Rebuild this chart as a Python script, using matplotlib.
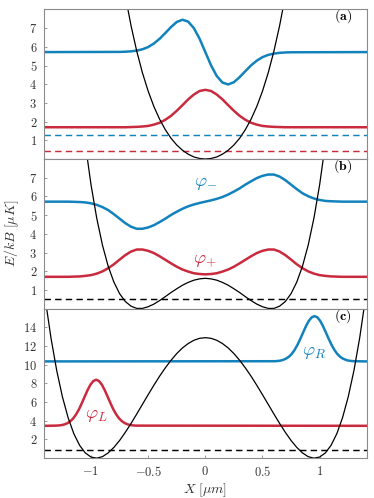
import matplotlib
matplotlib.use('Agg')
import matplotlib.pyplot as plt
from matplotlib.ticker import FuncFormatter

plt.rcParams['mathtext.fontset'] = 'cm'
plt.rcParams['font.family'] = ['DejaVu Serif']

BLUE = '#1282bd'
RED = '#c92a3e'
GRAY = '#8a8a8a'

# ---- panel (a): harmonic trap
xa = [-1.41, -0.75, -0.70, -0.65, -0.60, -0.55, -0.50, -0.45, -0.40, -0.35, -0.30,
      -0.25, -0.20, -0.15, -0.10, -0.05, 0.00, 0.05, 0.10, 0.15, 0.20, 0.25, 0.30,
      0.35, 0.40, 0.45, 0.50, 0.55, 0.60, 0.65, 0.70, 0.75, 1.41]
pot_a = [76, 10.57, 8.73, 7.14, 5.77, 4.61, 3.63, 2.81, 2.13, 1.57, 1.11, 0.75, 0.47,
         0.26, 0.11, 0.03, 0.00, 0.03, 0.11, 0.26, 0.47, 0.75, 1.11, 1.57, 2.13, 2.81,
         3.63, 4.61, 5.77, 7.14, 8.73, 10.57, 76]
blue_a = [5.72, 5.73, 5.74, 5.76, 5.80, 5.87, 5.99, 6.18, 6.43, 6.74, 7.06, 7.33, 7.45,
          7.35, 7.00, 6.43, 5.72, 5.01, 4.44, 4.09, 3.99, 4.11, 4.38, 4.70, 5.01, 5.26,
          5.45, 5.57, 5.64, 5.68, 5.70, 5.71, 5.72]
red_a = [1.70, 1.70, 1.70, 1.71, 1.72, 1.74, 1.77, 1.84, 1.94, 2.10, 2.31, 2.58, 2.88,
         3.19, 3.45, 3.64, 3.70, 3.64, 3.45, 3.19, 2.88, 2.58, 2.31, 2.10, 1.94, 1.84,
         1.77, 1.74, 1.72, 1.71, 1.70, 1.70, 1.70]
level_blue_a = 1.30
level_red_a = 0.43

# ---- panel (b): double well
xb = [-1.41, -1.20, -1.15, -1.10, -1.05, -1.00, -0.95, -0.90, -0.85, -0.80, -0.75,
      -0.70, -0.65, -0.60, -0.55, -0.50, -0.45, -0.40, -0.35, -0.30, -0.25, -0.20,
      -0.15, -0.10, -0.05, 0.00, 0.05, 0.10, 0.15, 0.20, 0.25, 0.30, 0.35, 0.40, 0.45,
      0.50, 0.55, 0.60, 0.65, 0.70, 0.75, 0.80, 0.85, 0.90, 0.95, 1.00, 1.05, 1.10,
      1.15, 1.20, 1.41]
pot_b = [40.7, 18.2, 14.56, 11.44, 8.82, 6.63, 4.84, 3.40, 2.27, 1.42, 0.80, 0.38, 0.13,
         0.01, 0.01, 0.10, 0.24, 0.43, 0.64, 0.86, 1.06, 1.25, 1.40, 1.52, 1.59, 1.62,
         1.59, 1.52, 1.40, 1.25, 1.06, 0.86, 0.64, 0.43, 0.24, 0.10, 0.01, 0.01, 0.13,
         0.38, 0.80, 1.42, 2.27, 3.40, 4.84, 6.63, 8.82, 11.44, 14.56, 18.2, 40.7]
phi_minus = [5.72, 5.72, 5.71, 5.70, 5.68, 5.63, 5.55, 5.43, 5.27, 5.05, 4.81, 4.57,
             4.38, 4.27, 4.27, 4.34, 4.46, 4.63, 4.81, 5.01, 5.18, 5.34, 5.47, 5.57,
             5.65, 5.72, 5.79, 5.87, 5.97, 6.10, 6.26, 6.43, 6.63, 6.81, 6.98, 7.10,
             7.17, 7.17, 7.06, 6.87, 6.63, 6.39, 6.17, 6.01, 5.89, 5.81, 5.76, 5.74,
             5.73, 5.72, 5.72]
phi_plus = [1.70, 1.70, 1.71, 1.72, 1.75, 1.79, 1.87, 1.99, 2.16, 2.37, 2.62, 2.86,
            3.05, 3.16, 3.16, 3.09, 2.97, 2.80, 2.61, 2.42, 2.24, 2.09, 1.98, 1.89,
            1.85, 1.83, 1.85, 1.89, 1.98, 2.09, 2.24, 2.42, 2.61, 2.80, 2.97, 3.09,
            3.16, 3.16, 3.05, 2.86, 2.62, 2.37, 2.16, 1.99, 1.87, 1.79, 1.75, 1.72,
            1.71, 1.70, 1.70]
level_b = 0.52

# ---- panel (c): deep double well, localized states
xc = [-1.40, -1.35, -1.30, -1.25, -1.20, -1.15, -1.10, -1.05, -1.00, -0.95, -0.90,
      -0.85, -0.80, -0.75, -0.70, -0.65, -0.60, -0.55, -0.50, -0.45, -0.40, -0.35,
      -0.30, -0.25, -0.20, -0.15, -0.10, -0.05, 0.00, 0.05, 0.10, 0.15, 0.20, 0.25,
      0.30, 0.35, 0.40, 0.45, 0.50, 0.55, 0.60, 0.65, 0.70, 0.75, 0.80, 0.85, 0.90,
      0.95, 1.00, 1.05, 1.10, 1.15, 1.20, 1.25, 1.30, 1.35, 1.40]
pot_c = [17.02, 12.85, 9.38, 6.56, 4.32, 2.61, 1.38, 0.56, 0.12, 0.00, 0.16, 0.56,
         1.15, 1.89, 2.76, 3.71, 4.72, 5.76, 6.79, 7.80, 8.77, 9.66, 10.47, 11.19,
         11.79, 12.26, 12.61, 12.82, 12.89, 12.82, 12.61, 12.26, 11.79, 11.19, 10.47,
         9.66, 8.77, 7.80, 6.79, 5.76, 4.72, 3.71, 2.76, 1.89, 1.15, 0.56, 0.16, 0.00,
         0.12, 0.56, 1.38, 2.61, 4.32, 6.56, 9.38, 12.85, 17.02]
xL = [-1.41, -1.305, -1.28, -1.255, -1.23, -1.205, -1.18, -1.155, -1.13, -1.105, -1.08,
      -1.055, -1.03, -1.005, -0.98, -0.955, -0.93, -0.905, -0.88, -0.855, -0.83, -0.805,
      -0.78, -0.755, -0.73, -0.705, -0.68, -0.655, -0.63, -0.605, 1.41]
phi_L = [3.46, 3.48, 3.50, 3.54, 3.62, 3.75, 3.96, 4.26, 4.69, 5.23, 5.89, 6.59, 7.28,
         7.86, 8.25, 8.39, 8.25, 7.86, 7.28, 6.59, 5.89, 5.23, 4.69, 4.26, 3.96, 3.75,
         3.62, 3.54, 3.50, 3.48, 3.46]
xR = [-1.41, 0.605, 0.63, 0.655, 0.68, 0.705, 0.73, 0.755, 0.78, 0.805, 0.83, 0.855,
      0.88, 0.905, 0.93, 0.955, 0.98, 1.005, 1.03, 1.055, 1.08, 1.105, 1.13, 1.155,
      1.18, 1.205, 1.23, 1.255, 1.28, 1.305, 1.41]
phi_R = [10.35, 10.37, 10.39, 10.43, 10.51, 10.64, 10.84, 11.14, 11.56, 12.10, 12.74,
         13.43, 14.11, 14.68, 15.06, 15.20, 15.06, 14.68, 14.11, 13.43, 12.74, 12.10,
         11.56, 11.14, 10.84, 10.64, 10.51, 10.43, 10.39, 10.37, 10.35]
level_c = 0.90

ytick_ab = [1, 2, 3, 4, 5, 6, 7]
ytick_c = [2, 4, 6, 8, 10, 12, 14]
xtick = [-1, -0.5, 0, 0.5, 1]

fig, axes = plt.subplots(3, 1, figsize=(3.74, 4.98), dpi=100, sharex=True)
fig.subplots_adjust(left=0.118, right=0.980, bottom=0.080, top=0.981, hspace=0)

fmt = FuncFormatter(lambda v, p: '$%g$' % v)
dash = (0, (4.4, 2.9))
wlw = 1.8
plw = 0.9
dlw = 1.05

ax = axes[0]
ax.plot(xa, blue_a, color=BLUE, lw=wlw)
ax.plot(xa, red_a, color=RED, lw=wlw)
ax.axhline(level_blue_a, color=BLUE, lw=dlw, ls=dash)
ax.axhline(level_red_a, color=RED, lw=dlw, ls=dash)
ax.plot(xa, pot_a, color='black', lw=plw)
ax.set_ylim(0, 8)
ax.set_yticks(ytick_ab)

ax = axes[1]
ax.plot(xb, phi_minus, color=BLUE, lw=wlw)
ax.plot(xb, phi_plus, color=RED, lw=wlw)
ax.axhline(level_b, color='black', lw=dlw, ls=dash)
ax.plot(xb, pot_b, color='black', lw=plw)
ax.text(0, 6.7, r'$\varphi_{-}$', color=BLUE, fontsize=13.5, ha='center', va='center')
ax.text(0, 2.6, r'$\varphi_{+}$', color=RED, fontsize=13.5, ha='center', va='center')
ax.set_ylim(0, 8)
ax.set_yticks(ytick_ab)
ax.set_ylabel(r'$E/kB\ [\mu K]$', fontsize=10, color='#333333', labelpad=6)

ax = axes[2]
ax.plot(xR, phi_R, color=BLUE, lw=wlw)
ax.plot(xL, phi_L, color=RED, lw=wlw)
ax.axhline(level_c, color='black', lw=dlw, ls=dash)
ax.plot(xc, pot_c, color='black', lw=plw)
ax.text(-0.955, 4.6, r'$\varphi_L$', color=RED, fontsize=13.5, ha='center', va='center')
ax.text(0.955, 11.4, r'$\varphi_R$', color=BLUE, fontsize=13.5, ha='center', va='center')
ax.set_ylim(0, 16)
ax.set_yticks(ytick_c)
ax.set_xticks(xtick)
ax.set_xlabel(r'$X\ [\mu m]$', fontsize=10, color='#333333', labelpad=2)

for ax, lab in zip(axes, ['a', 'b', 'c']):
    ax.set_xlim(-1.41, 1.41)
    ax.yaxis.set_major_formatter(fmt)
    ax.xaxis.set_major_formatter(fmt)
    ax.tick_params(direction='in', length=2.5, width=0.6, color=GRAY,
                   labelsize=9, labelcolor='#333333', pad=5)
    for s in ax.spines.values():
        s.set_color(GRAY)
        s.set_linewidth(0.8)
    ax.text(0.927, 0.953, r'$\mathbf{(%s)}$' % lab, transform=ax.transAxes,
            ha='center', va='center', fontsize=10)

axes[0].tick_params(bottom=False, labelbottom=False)
axes[1].tick_params(bottom=False, labelbottom=False)

fig.savefig('out.png', dpi=100)
